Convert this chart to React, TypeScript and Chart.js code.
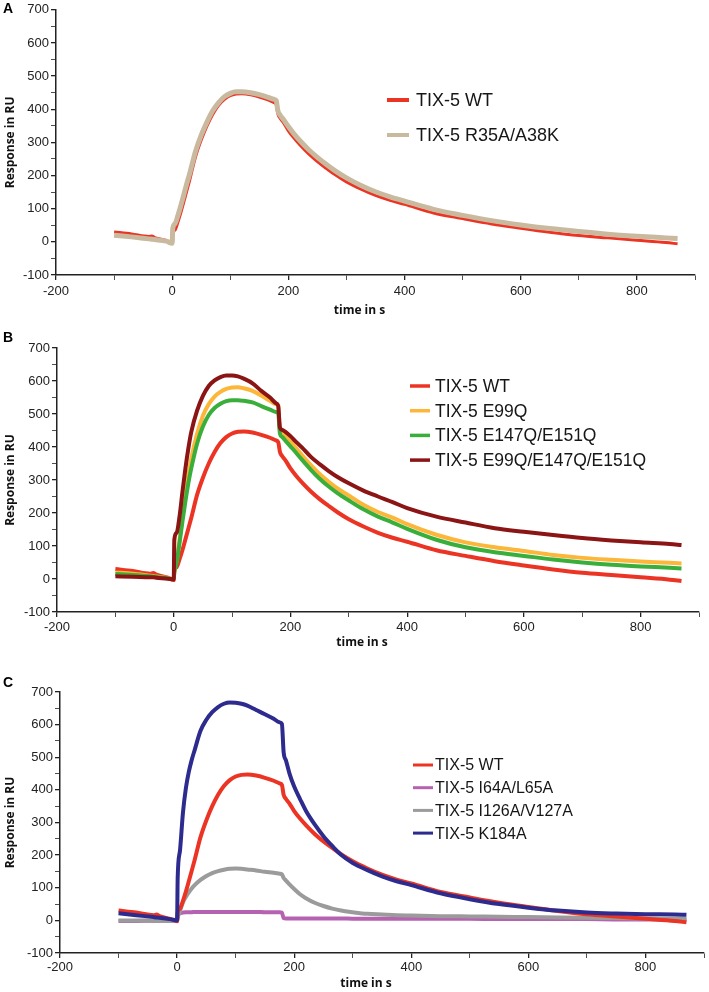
import React, { useEffect, useRef } from "react";
import { Chart, registerables } from "chart.js";

Chart.register(...registerables);
Chart.defaults.font.family = '"Liberation Sans", Arial, sans-serif';

// ---------------- data (time in s, response in RU) ----------------
const TIME = [-100, -70, -40, -35, -30, -10, 0, 1, 5, 10, 15, 20, 25, 30, 40, 50, 60, 70, 80, 90, 100, 110, 120, 135, 150, 165, 175, 179, 182, 186, 192, 200, 210, 220, 235, 250, 265, 280, 300, 325, 350, 375, 400, 450, 500, 550, 600, 650, 700, 750, 800, 850, 870];

const WT = [30, 24, 16, 18, 13, 4, -3, 25, 36, 60, 88, 120, 152, 185, 255, 307, 350, 385, 412, 430, 441, 446, 447, 444, 437, 428, 420, 415, 385, 372, 358, 335, 312, 292, 265, 242, 222, 203, 181, 159, 140, 125, 113, 87, 70, 54, 41, 29, 19, 12, 5, -2, -6];
const R35A_A38K = [20, 15, 9, 8, 7, 2, -4, 40, 55, 80, 110, 142, 175, 205, 272, 322, 362, 396, 420, 438, 448, 453, 453, 450, 444, 436, 430, 426, 395, 382, 368, 348, 325, 305, 278, 255, 234, 215, 193, 170, 151, 136, 123, 98, 80, 64, 51, 40, 31, 23, 17, 12, 10];
const E99Q = [20, 16, 10, 9, 8, 3, 0, 25, 55, 120, 190, 255, 315, 365, 440, 495, 530, 553, 567, 576, 580, 581, 578, 570, 556, 540, 530, 525, 452, 444, 432, 417, 396, 375, 345, 318, 295, 275, 253, 225, 203, 186, 166, 134, 111, 96, 85, 73, 64, 58, 53, 49, 47];
const E147Q_E151Q = [15, 12, 8, 7, 6, 2, 0, 20, 50, 110, 175, 235, 290, 335, 410, 462, 497, 518, 531, 539, 542, 542, 540, 535, 524, 513, 506, 502, 440, 430, 418, 402, 382, 361, 331, 304, 281, 261, 238, 211, 189, 171, 152, 119, 96, 81, 70, 59, 50, 43, 38, 34, 32];
const E99Q_E147Q_E151Q = [8, 7, 5, 5, 4, 1, -1, 118, 140, 190, 265, 335, 395, 445, 510, 555, 585, 602, 612, 617, 617, 614, 607, 593, 570, 550, 533, 525, 458, 452, 445, 433, 415, 398, 370, 348, 328, 310, 290, 268, 250, 233, 215, 189, 171, 154, 143, 133, 124, 117, 111, 106, 103];
const I64A_L65A = [-2, -2, -1, -1, -1, -1, -1, 18, 22, 24, 25, 25, 25, 26, 26, 26, 26, 26, 26, 26, 26, 26, 26, 26, 25, 25, 25, 24, 7, 6, 6, 6, 6, 6, 6, 6, 6, 6, 5, 5, 5, 5, 5, 5, 5, 4, 4, 4, 4, 3, 3, 3, 3];
const I126A_V127A = [0, 0, -1, -1, -1, -2, -2, 8, 30, 55, 72, 86, 98, 108, 124, 136, 145, 151, 155, 158, 159, 158, 156, 153, 149, 146, 143, 141, 130, 122, 110, 96, 80, 68, 54, 44, 36, 30, 25, 20, 18, 16, 15, 13, 12, 11, 10, 9, 8, 7, 6, 5, 5];
const K184A = [22, 16, 10, 9, 8, 3, 0, 130, 215, 330, 405, 455, 492, 522, 581, 615, 638, 654, 664, 668, 667, 664, 658, 645, 632, 618, 607, 602, 515, 490, 450, 410, 372, 336, 294, 258, 228, 201, 176, 154, 135, 120, 108, 83, 65, 50, 39, 30, 24, 21, 19, 18, 17];

const X_MIN = -200;
const X_MAX = 900;
const Y_MIN = -100;
const Y_MAX = 700;
const X_TITLE = "time in s";
const Y_TITLE = "Response in RU";

// ---------------- styling ----------------
const C_WT = "#ec3424";
const C_TAN = "#c9b99e";
const C_ORANGE = "#fcb63a";
const C_GREEN = "#3aae3a";
const C_DARKRED = "#8b1414";
const C_PINK = "#b562b0";
const C_GREY = "#9b9b9b";
const C_BLUE = "#2d2b8e";

type Series = { label: string; values: number[]; color: string; width: number; order: number };
type PanelDef = {
  letter: string;
  top: number;
  height: number;
  area: { left: number; right: number; top: number; bottom: number };
  letterY: number;
  xTitleDy: number;
  xTickPad: number;
  legend: { x1: number; x2: number; tx: number; y0: number; dy: number; size: number; lw: number };
  series: Series[];
};

const PANELS: PanelDef[] = [
  {
    letter: "A",
    top: 0,
    height: 330,
    area: { left: 56, right: 695, top: 9, bottom: 275 },
    letterY: 13,
    xTitleDy: 36,
    xTickPad: 4,
    legend: { x1: 387, x2: 409, tx: 416, y0: 100, dy: 35, size: 18, lw: 4 },
    series: [
      { label: "TIX-5 WT", values: WT, color: C_WT, width: 3, order: 1 },
      { label: "TIX-5 R35A/A38K", values: R35A_A38K, color: C_TAN, width: 5, order: 0 },
    ],
  },
  {
    letter: "B",
    top: 330,
    height: 330,
    area: { left: 57, right: 699, top: 18, bottom: 282 },
    letterY: 12,
    xTitleDy: 31,
    xTickPad: 3,
    legend: { x1: 410, x2: 430, tx: 435, y0: 56, dy: 24.7, size: 17.5, lw: 3.5 },
    series: [
      { label: "TIX-5 WT", values: WT, color: C_WT, width: 4, order: 3 },
      { label: "TIX-5 E99Q", values: E99Q, color: C_ORANGE, width: 4, order: 2 },
      { label: "TIX-5 E147Q/E151Q", values: E147Q_E151Q, color: C_GREEN, width: 4, order: 1 },
      { label: "TIX-5 E99Q/E147Q/E151Q", values: E99Q_E147Q_E151Q, color: C_DARKRED, width: 4, order: 0 },
    ],
  },
  {
    letter: "C",
    top: 660,
    height: 332,
    area: { left: 60, right: 704, top: 32, bottom: 293 },
    letterY: 27,
    xTitleDy: 31,
    xTickPad: 2,
    legend: { x1: 413, x2: 433, tx: 435, y0: 105, dy: 22.7, size: 16, lw: 3 },
    series: [
      { label: "TIX-5 WT", values: WT, color: C_WT, width: 4, order: 1 },
      { label: "TIX-5 I64A/L65A", values: I64A_L65A, color: C_PINK, width: 4, order: 3 },
      { label: "TIX-5 I126A/V127A", values: I126A_V127A, color: C_GREY, width: 4, order: 2 },
      { label: "TIX-5 K184A", values: K184A, color: C_BLUE, width: 4, order: 0 },
    ],
  },
];

const W = 709;
const AXIS = "#222222";

const decorPlugin = {
  id: "decor",
  afterDraw(chart: any, _args: any, opts: any) {
    const { ctx, chartArea } = chart;
    ctx.save();
    // panel letter
    ctx.fillStyle = "#000";
    ctx.font = 'bold 14px "Liberation Sans", Arial, sans-serif';
    ctx.textAlign = "left";
    ctx.textBaseline = "alphabetic";
    ctx.fillText(opts.letter, 3, opts.letterY);
    // x axis title
    ctx.font = 'bold 12px "Open Sans", sans-serif';
    ctx.textAlign = "center";
    ctx.textBaseline = "middle";
    ctx.fillStyle = "#111";
    ctx.fillText(X_TITLE, (chartArea.left + chartArea.right) / 2 - 16, chartArea.bottom + opts.xTitleDy);
    // legend
    const lg = opts.legend;
    ctx.font = `${lg.size}px "Liberation Sans", Arial, sans-serif`;
    ctx.textAlign = "left";
    ctx.textBaseline = "middle";
    chart.data.datasets.forEach((ds: any, i: number) => {
      const y = lg.y0 + i * lg.dy;
      ctx.strokeStyle = ds.borderColor;
      ctx.lineWidth = lg.lw;
      ctx.lineCap = "butt";
      ctx.beginPath();
      ctx.moveTo(lg.x1, y);
      ctx.lineTo(lg.x2, y);
      ctx.stroke();
      ctx.fillStyle = "#161616";
      ctx.fillText(ds.label, lg.tx, y + 1);
    });
    ctx.restore();
  },
};

function Panel({ def }: { def: PanelDef }) {
  const ref = useRef<HTMLCanvasElement>(null);
  useEffect(() => {
    const a = def.area;
    const xh = def.height - a.bottom;
    const chart = new Chart(ref.current as HTMLCanvasElement, {
      type: "line",
      data: {
        datasets: def.series.map((s) => ({
          label: s.label,
          data: TIME.map((t, i) => ({ x: t, y: s.values[i] })),
          borderColor: s.color,
          backgroundColor: s.color,
          borderWidth: s.width,
          pointRadius: 0,
          fill: false,
          cubicInterpolationMode: "monotone",
          order: s.order,
        })),
      },
      options: {
        animation: false,
        responsive: false,
        devicePixelRatio: 1,
        layout: { padding: { left: 0, right: W - a.right, top: a.top, bottom: 0 } },
        plugins: {
          legend: { display: false },
          tooltip: { enabled: false },
          decor: {
            letter: def.letter,
            letterY: def.letterY,
            xTitleDy: def.xTitleDy,
            legend: def.legend,
          },
        } as any,
        scales: {
          x: {
            type: "linear",
            min: X_MIN,
            max: X_MAX,
            ticks: {
              stepSize: 100,
              autoSkip: false,
              maxRotation: 0,
              padding: def.xTickPad,
              color: AXIS,
              font: { size: 13 },
              callback: (v: any) => (Number(v) % 200 === 0 ? String(v) : ""),
            },
            grid: {
              drawOnChartArea: false,
              drawTicks: true,
              tickLength: 5,
              color: AXIS,
              lineWidth: (c: any) => (c.tick && c.tick.value % 200 === 0 ? 1.3 : 0.8),
            },
            border: { color: AXIS, width: 1.5 },
            afterFit: (s: any) => {
              s.height = xh;
            },
          },
          y: {
            type: "linear",
            min: Y_MIN,
            max: Y_MAX,
            ticks: {
              stepSize: 50,
              autoSkip: false,
              padding: 2,
              color: AXIS,
              font: { size: 13 },
              callback: (v: any) => (Number(v) % 100 === 0 ? String(v) : ""),
            },
            grid: {
              drawOnChartArea: false,
              drawTicks: true,
              tickLength: 5,
              color: AXIS,
              lineWidth: (c: any) => (c.tick && c.tick.value % 100 === 0 ? 1.3 : 0.8),
            },
            border: { color: AXIS, width: 1.5 },
            title: {
              display: true,
              text: Y_TITLE,
              color: "#111",
              font: { family: '"Open Sans", sans-serif', weight: "bold", size: 12 },
              padding: { top: 3, bottom: 0 },
            },
            afterFit: (s: any) => {
              s.width = a.left;
            },
          },
        },
      } as any,
      plugins: [decorPlugin],
    });
    return () => chart.destroy();
  }, []);
  return (
    <div style={{ position: "absolute", left: 0, top: def.top, width: W, height: def.height }}>
      <canvas ref={ref} width={W} height={def.height} style={{ display: "block", width: W, height: def.height }} />
    </div>
  );
}

export default function App() {
  return (
    <div style={{ position: "absolute", left: 0, top: 0, width: W, height: 992, background: "#fff" }}>
      {PANELS.map((p) => (
        <Panel key={p.letter} def={p} />
      ))}
    </div>
  );
}
